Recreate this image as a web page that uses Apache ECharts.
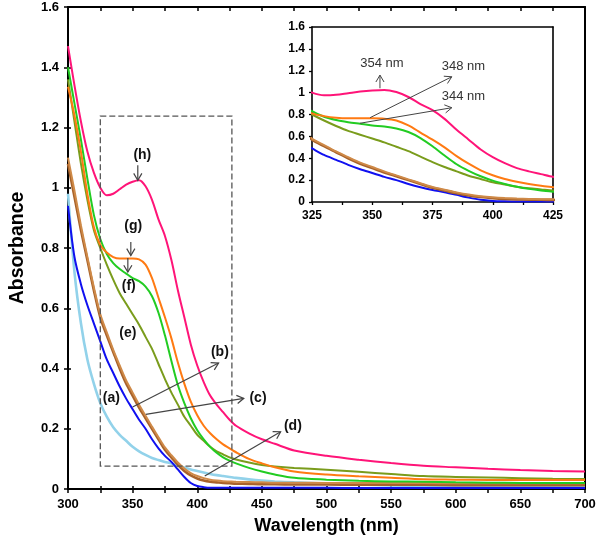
<!DOCTYPE html>
<html><head><meta charset="utf-8">
<script src="https://cdn.jsdelivr.net/npm/echarts/dist/echarts.min.js"></script>
<style>html,body{margin:0;padding:0;background:#fff}#c{width:600px;height:548px}</style>
</head><body><div id="c"></div>
<script>
// Wavelength (nm)
const wavelength = [300,305,310,315,320,325,330,335,340,345,350,355,360,365,370,375,380,385,390,395,400,405,410,415,420,425,430,440,450,460,475,500,525,550,575,600,625,650,675,700];
// (a) light blue
const seriesA = [0.98,0.72,0.55,0.43,0.35,0.285,0.24,0.205,0.18,0.16,0.14,0.125,0.113,0.103,0.096,0.09,0.085,0.078,0.071,0.065,0.06,0.055,0.05,0.046,0.043,0.04,0.037,0.032,0.028,0.025,0.022,0.018,0.015,0.012,0.01,0.009,0.008,0.008,0.008,0.008];
// (b) blue
const seriesB = [0.94,0.77,0.68,0.61,0.55,0.49,0.43,0.385,0.34,0.30,0.265,0.23,0.20,0.165,0.135,0.11,0.09,0.065,0.04,0.02,0.01,0.006,0.004,0.004,0.004,0.004,0.004,0.004,0.004,0.004,0.004,0.004,0.003,0.003,0.003,0.003,0.003,0.003,0.003,0.003];
// (c) brown
const seriesC = [1.08,0.97,0.86,0.76,0.66,0.57,0.51,0.455,0.40,0.35,0.31,0.27,0.235,0.2,0.165,0.13,0.105,0.08,0.06,0.045,0.035,0.028,0.024,0.022,0.02,0.019,0.018,0.017,0.016,0.016,0.015,0.015,0.014,0.014,0.014,0.013,0.013,0.013,0.013,0.013];
// (d) tan
const seriesD = [1.10,0.99,0.875,0.77,0.67,0.58,0.52,0.462,0.41,0.36,0.32,0.28,0.243,0.207,0.172,0.138,0.112,0.088,0.068,0.053,0.043,0.036,0.031,0.028,0.026,0.025,0.024,0.023,0.022,0.021,0.021,0.02,0.02,0.02,0.02,0.019,0.019,0.019,0.019,0.019];
// (e) olive
const seriesE = [1.36,1.22,1.08,0.96,0.86,0.80,0.745,0.695,0.65,0.615,0.58,0.545,0.505,0.465,0.415,0.365,0.32,0.28,0.24,0.21,0.18,0.16,0.14,0.125,0.115,0.105,0.098,0.088,0.08,0.075,0.07,0.064,0.057,0.05,0.043,0.04,0.038,0.036,0.034,0.033];
// (f) green
const seriesF = [1.40,1.28,1.16,1.03,0.91,0.83,0.78,0.75,0.73,0.715,0.70,0.69,0.672,0.64,0.585,0.51,0.425,0.345,0.285,0.235,0.195,0.165,0.14,0.12,0.105,0.094,0.085,0.07,0.058,0.048,0.037,0.031,0.027,0.025,0.024,0.022,0.021,0.02,0.02,0.02];
// (g) orange
const seriesG = [1.335,1.24,1.12,0.98,0.87,0.81,0.785,0.77,0.765,0.765,0.765,0.762,0.745,0.70,0.635,0.57,0.50,0.42,0.35,0.29,0.245,0.21,0.185,0.165,0.148,0.135,0.122,0.10,0.085,0.072,0.058,0.048,0.042,0.037,0.032,0.031,0.03,0.03,0.03,0.03];
// (h) pink
const seriesH = [1.47,1.34,1.22,1.12,1.05,1.00,0.975,0.98,0.995,1.01,1.02,1.025,1.005,0.96,0.895,0.84,0.76,0.66,0.57,0.48,0.41,0.355,0.31,0.28,0.255,0.23,0.21,0.185,0.165,0.15,0.128,0.11,0.097,0.086,0.077,0.072,0.067,0.063,0.06,0.058];

const seriesNames = ['(a)','(b)','(c)','(d)','(e)','(f)','(g)','(h)'];
const seriesValues = [seriesA, seriesB, seriesC, seriesD, seriesE, seriesF, seriesG, seriesH];
const seriesColors = ['#92d2ea','#1010f0','#a8622a','#cf8a48','#7a9c1c','#22cc22','#ff7a12','#ff1478'];
const seriesWidths = [2.6,2,2.6,2,2,2,2,2];

// Main annotations: label positions [wavelength, absorbance]
const labelPos = {
  '(h)': [357.5, 1.108], '(g)': [350.5, 0.872], '(f)': [347, 0.675], '(e)': [346.3, 0.518],
  '(a)': [333.5, 0.302], '(b)': [417.5, 0.455], '(c)': [447, 0.303], '(d)': [474, 0.209]
};
const arrowsMain = [
  [[354, 1.075], [354, 1.025]],
  [[348.6, 0.82], [348.6, 0.775]],
  [[346.3, 0.767], [346.3, 0.72]],
  [[350, 0.272], [416.5, 0.418]],
  [[360.2, 0.248], [436, 0.301]],
  [[405.8, 0.043], [464.5, 0.19]]
];
const zoomBox = [[325, 1.238], [426.8, 0.076]];
// Inset annotations
const insetTexts = [['354 nm', 354, 1.27], ['348 nm', 387.8, 1.237], ['344 nm', 387.8, 0.963]];
const insetArrows = [
  [[353.2, 1.04], [353.2, 1.16]],
  [[349.1, 0.771], [383, 1.145]],
  [[344.9, 0.72], [383, 0.862]]
];

const FONT = '"Liberation Sans", Arial, sans-serif';
const chart = echarts.init(document.getElementById('c'), null, {renderer: 'canvas'});

function pairs(vals) { return wavelength.map((w, i) => [w, vals[i]]); }
const mainXLabel = v => (v % 50 === 0 ? String(v) : '');
const insetXLabel = v => (v % 25 === 0 ? String(v) : '');

const series = [];
seriesValues.forEach((vals, i) => {
  series.push({
    type: 'line', name: seriesNames[i], xAxisIndex: 0, yAxisIndex: 0,
    data: pairs(vals), showSymbol: false, smooth: 0.3,
    lineStyle: {color: seriesColors[i], width: seriesWidths[i]}, itemStyle: {color: seriesColors[i]},
    animation: false, silent: true, z: 2 + i
  });
  if (i > 0) {
    series.push({
      type: 'line', name: seriesNames[i] + 'i', xAxisIndex: 3, yAxisIndex: 3,
      data: pairs(vals), showSymbol: false, smooth: 0.3, clip: true,
      lineStyle: {color: seriesColors[i], width: seriesWidths[i]}, itemStyle: {color: seriesColors[i]},
      animation: false, silent: true, z: 2 + i
    });
  }
});

const axisLbl = (size) => ({color: '#000', fontWeight: 'bold', fontSize: size, fontFamily: FONT});
const blackLine = (w) => ({show: true, onZero: false, lineStyle: {color: '#000', width: w}});

chart.setOption({
  animation: false,
  backgroundColor: '#fff',
  grid: [
    {left: 67, right: 15, top: 7, bottom: 59},
    {left: 312, width: 241, top: 27, height: 175}
  ],
  xAxis: [
    {gridIndex: 0, type: 'value', min: 300, max: 700, interval: 25, position: 'bottom',
     name: 'Wavelength (nm)', nameLocation: 'middle', nameGap: 28,
     nameTextStyle: {fontSize: 18, fontWeight: 'bold', color: '#000', fontFamily: FONT},
     axisLine: blackLine(2), axisTick: {length: 4, lineStyle: {color: '#000', width: 1.5}},
     axisLabel: Object.assign(axisLbl(13), {margin: 9, formatter: mainXLabel, showMinLabel: true, showMaxLabel: true}),
     splitLine: {show: false}},
    {gridIndex: 0, type: 'value', min: 300, max: 700, interval: 25, position: 'top',
     axisLine: blackLine(2), axisTick: {inside: true, length: 4, lineStyle: {color: '#000', width: 1.5}},
     axisLabel: {show: false}, splitLine: {show: false}},
    {gridIndex: 0, type: 'value', min: 300, max: 700, interval: 25, position: 'bottom',
     axisLine: {show: false, onZero: false}, axisTick: {inside: true, length: 3, lineStyle: {color: '#000', width: 1.5}},
     axisLabel: {show: false}, splitLine: {show: false}},
    {gridIndex: 1, type: 'value', min: 325, max: 425, interval: 12.5, position: 'bottom',
     axisLine: blackLine(1.6), axisTick: {length: 3, lineStyle: {color: '#000', width: 1.3}},
     axisLabel: Object.assign(axisLbl(12), {margin: 8, formatter: insetXLabel}),
     splitLine: {show: false}},
    {gridIndex: 1, type: 'value', min: 325, max: 425, interval: 25, position: 'top',
     axisLine: blackLine(1.6), axisTick: {show: false},
     axisLabel: {show: false}, splitLine: {show: false}}
  ],
  yAxis: [
    {gridIndex: 0, type: 'value', min: 0, max: 1.6, interval: 0.2, position: 'left',
     name: 'Absorbance', nameLocation: 'middle', nameGap: 40,
     nameTextStyle: {fontSize: 19.5, fontWeight: 'bold', color: '#000', fontFamily: FONT},
     axisLine: blackLine(2), axisTick: {length: 4, lineStyle: {color: '#000', width: 1.5}},
     axisLabel: Object.assign(axisLbl(13), {margin: 9}), splitLine: {show: false}},
    {gridIndex: 0, type: 'value', min: 0, max: 1.6, interval: 0.2, position: 'right',
     axisLine: blackLine(2), axisTick: {show: false},
     axisLabel: {show: false}, splitLine: {show: false}},
    {gridIndex: 0, type: 'value', min: 0, max: 1.6, interval: 0.2, position: 'left',
     axisLine: {show: false, onZero: false}, axisTick: {inside: true, length: 3, lineStyle: {color: '#000', width: 1.5}},
     axisLabel: {show: false}, splitLine: {show: false}},
    {gridIndex: 1, type: 'value', min: 0, max: 1.6, interval: 0.2, position: 'left',
     axisLine: blackLine(1.6), axisTick: {length: 3, lineStyle: {color: '#000', width: 1.3}},
     axisLabel: Object.assign(axisLbl(12), {margin: 7}), splitLine: {show: false}},
    {gridIndex: 1, type: 'value', min: 0, max: 1.6, interval: 0.2, position: 'right',
     axisLine: blackLine(1.6), axisTick: {show: false},
     axisLabel: {show: false}, splitLine: {show: false}}
  ],
  series: series
});

function px(pt) { return chart.convertToPixel({xAxisIndex: 0, yAxisIndex: 0}, pt); }
function pxi(pt) { return chart.convertToPixel({xAxisIndex: 3, yAxisIndex: 3}, pt); }

function arrow(p0, p1, color, width) {
  const ang = Math.atan2(p1[1] - p0[1], p1[0] - p0[0]);
  const L = 8, a = Math.PI * 0.83;
  const h1 = [p1[0] + L * Math.cos(ang + a), p1[1] + L * Math.sin(ang + a)];
  const h2 = [p1[0] + L * Math.cos(ang - a), p1[1] + L * Math.sin(ang - a)];
  return [
    {type: 'line', z: 100, silent: true, shape: {x1: p0[0], y1: p0[1], x2: p1[0], y2: p1[1]}, style: {stroke: color, lineWidth: width}},
    {type: 'polyline', z: 100, silent: true, shape: {points: [h1, p1, h2]}, style: {stroke: color, lineWidth: width, fill: null}}
  ];
}

const gfx = [];
// dashed zoom box
const b0 = px(zoomBox[0]), b1 = px(zoomBox[1]);
gfx.push({type: 'rect', z: 50, silent: true, shape: {x: b0[0], y: b0[1], width: b1[0] - b0[0], height: b1[1] - b0[1]},
  style: {fill: null, stroke: '#555', lineWidth: 1.3, lineDash: [6, 3]}});
arrowsMain.forEach(a => gfx.push(...arrow(px(a[0]), px(a[1]), '#444', 1.2)));
Object.keys(labelPos).forEach(k => {
  const p = px(labelPos[k]);
  gfx.push({type: 'text', z: 100, silent: true, x: p[0], y: p[1],
    style: {text: k, font: 'bold 14px ' + FONT, fill: '#111', textAlign: 'center', textVerticalAlign: 'middle', align: 'center', verticalAlign: 'middle'}});
});
insetArrows.forEach(a => gfx.push(...arrow(pxi(a[0]), pxi(a[1]), '#444', 1)));
insetTexts.forEach(t => {
  const p = pxi([t[1], t[2]]);
  gfx.push({type: 'text', z: 100, silent: true, x: p[0], y: p[1],
    style: {text: t[0], font: '13px ' + FONT, fill: '#333', textAlign: 'center', textVerticalAlign: 'middle', align: 'center', verticalAlign: 'middle'}});
});
chart.setOption({graphic: {elements: gfx}});
</script></body></html>
